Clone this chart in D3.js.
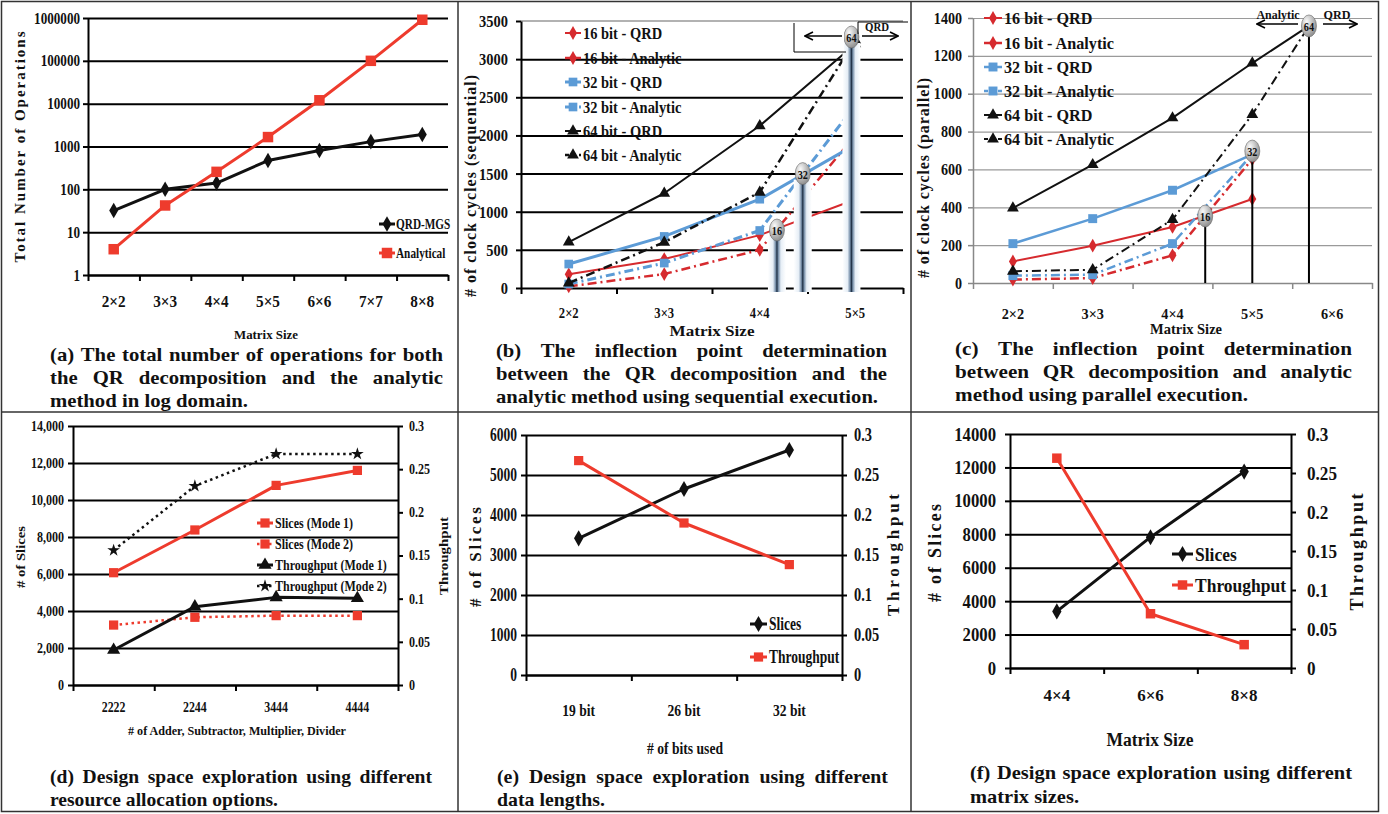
<!DOCTYPE html>
<html>
<head>
<meta charset="utf-8">
<script src="https://cdn.jsdelivr.net/npm/d3@7"></script>
<style>
  body { margin: 0; background: #fff; }
  svg text { font-family: "Liberation Serif", "Times New Roman", serif; font-weight: bold; fill: #111; }
</style>
</head>
<body>
<svg id="fig" width="1388" height="814"></svg>
<script>
// (a) total number of operations, log domain
const opsCats = ["2×2", "3×3", "4×4", "5×5", "6×6", "7×7", "8×8"];
const opsQRD = [32, 100, 140, 470, 810, 1300, 1900];
const opsAnalytical = [4, 42, 256, 1660, 12000, 100000, 910000];
const opsTicks = [1, 10, 100, 1000, 10000, 100000, 1000000];

// (b) clock cycles, sequential
const seqCats = ["2×2", "3×3", "4×4", "5×5"];
const seq16QRD = [179, 379, 693, 1160];
const seq16Ana = [22, 183, 501, 2000];
const seq32QRD = [314, 676, 1164, 1880];
const seq32Ana = [52, 327, 754, 2400];
const seq64QRD = [601, 1242, 2127, 3200];
const seq64Ana = [65, 600, 1255, 3250];
const seqTicks = [0, 500, 1000, 1500, 2000, 2500, 3000, 3500];
const seqInflect = [["16", 2.18, 760], ["32", 2.45, 1500], ["64", 2.96, 3290]];

// (c) clock cycles, parallel
const parCats = ["2×2", "3×3", "4×4", "5×5", "6×6"];
const par16QRD = [114, 197, 296, 444];
const par16Ana = [18, 26, 146, 655];
const par32QRD = [208, 340, 490, 680];
const par32Ana = [39, 44, 208, 680];
const par64QRD = [396, 625, 872, 1162];
const par64Ana = [62, 70, 335, 890];
const parTicks = [0, 200, 400, 600, 800, 1000, 1200, 1400];
const parInflect = [["16", 2.41, 354], ["32", 3.0, 697], ["64", 3.71, 1358]];

// (d) resource allocation
const resCats = ["2222", "2244", "3444", "4444"];
const resSlicesM1 = [6070, 8380, 10790, 11600];
const resSlicesM2 = [3240, 3660, 3750, 3750];
const resThruM1 = [0.0405, 0.0907, 0.1015, 0.1004];
const resThruM2 = [0.156, 0.2305, 0.2676, 0.2676];
const resTicks = [0, 2000, 4000, 6000, 8000, 10000, 12000, 14000];
const thruTicks = [0, 0.05, 0.1, 0.15, 0.2, 0.25, 0.3];

// (e) data lengths
const bitCats = ["19 bit", "26 bit", "32 bit"];
const bitSlices = [3417, 4650, 5625];
const bitThru = [0.268, 0.19, 0.138];
const bitTicks = [0, 1000, 2000, 3000, 4000, 5000, 6000];

// (f) matrix sizes
const sizeCats = ["4×4", "6×6", "8×8"];
const sizeSlices = [3385, 7826, 11750];
const sizeThru = [0.269, 0.0696, 0.0299];
const sizeTicks = [0, 2000, 4000, 6000, 8000, 10000, 12000, 14000];

const RED = "#ee3b2d", RED2 = "#d62a2e", BLUE = "#5c9bd6", INK = "#111";
const DASHDOT = "9,4,2,4";

const svg = d3.select("#fig");
const defs = svg.append("defs");
const rg = defs.append("radialGradient").attr("id", "bub").attr("cx", "35%").attr("cy", "30%").attr("r", "75%");
rg.append("stop").attr("offset", "0%").attr("stop-color", "#fafafa");
rg.append("stop").attr("offset", "100%").attr("stop-color", "#8a8a8a");
const lg = defs.append("linearGradient").attr("id", "glow");
[[0, "#fff"], [0.28, "#e6eef6"], [0.42, "#7890aa"], [0.5, "#1e2f44"], [0.58, "#7890aa"], [0.72, "#e6eef6"], [1, "#fff"]]
  .forEach(([o, c]) => lg.append("stop").attr("offset", o).attr("stop-color", c));
defs.append("marker").attr("id", "arr").attr("viewBox", "0 0 10 10").attr("refX", 9).attr("refY", 5)
  .attr("markerWidth", 10).attr("markerHeight", 10).attr("markerUnits", "userSpaceOnUse").attr("orient", "auto")
  .append("path").attr("d", "M1,1 L9,5 L1,9").attr("fill", "none").attr("stroke", "#000").attr("stroke-width", 1.6);

// squeeze text horizontally, the source figure uses a narrow Times
function squeeze(sel, sx) {
  sel.each(function () {
    const L = this.getComputedTextLength();
    d3.select(this).attr("textLength", L * sx).attr("lengthAdjust", "spacingAndGlyphs");
  });
}

function label(g, str, x, y, o = {}) {
  const t = g.append("text")
    .attr("transform", `translate(${x},${y})` + (o.rotate ? ` rotate(${o.rotate})` : ""))
    .attr("text-anchor", o.anchor || "start")
    .attr("dy", "0.35em")
    .style("font-size", (o.size || 14) + "px")
    .text(str);
  if (o.w) t.attr("textLength", o.w).attr("lengthAdjust", o.adjust || "spacingAndGlyphs");
  else if (o.sx) squeeze(t, o.sx);
  return t;
}

function panel(p) {
  const g = svg.append("g");
  const x = d3.scaleLinear().domain([-0.5, p.cats.length - 0.5]).range([p.x0, p.x1]);
  const yL = (p.log ? d3.scaleLog() : d3.scaleLinear()).domain(p.yDomain).range([p.y1, p.y0]);
  const yR = p.rDomain ? d3.scaleLinear().domain(p.rDomain).range([p.y1, p.y0]) : null;
  const W = p.x1 - p.x0;

  // gridlines
  g.append("g").attr("transform", `translate(${p.x0},0)`)
    .call(d3.axisLeft(yL).tickValues(p.gridTicks || p.yTicks).tickSize(-W).tickFormat(""))
    .call(a => a.select(".domain").remove())
    .selectAll("line").attr("stroke", p.gridColor).attr("stroke-width", p.gridWidth);
  if (p.topLine) {
    g.append("line").attr("x1", p.x0).attr("x2", p.x1).attr("y1", p.y0).attr("y2", p.y0)
      .attr("stroke", p.topLine).attr("stroke-width", 1.5);
  }

  // left axis
  const left = g.append("g").attr("transform", `translate(${p.x0},0)`)
    .call(d3.axisLeft(yL).tickValues(p.yTicks).tickSize(p.tick).tickSizeOuter(0)
      .tickPadding(p.x0 - p.tick - p.lblX).tickFormat(p.yFmt || d3.format("d")));
  left.select(".domain").attr("stroke", p.axisColor).attr("stroke-width", p.axisWidth);
  left.selectAll(".tick line").attr("stroke", p.axisColor).attr("stroke-width", p.axisWidth);
  left.selectAll("text").style("font-size", p.tickFont + "px");
  squeeze(left.selectAll("text"), p.tickSx);

  // right axis
  if (yR) {
    const right = g.append("g").attr("transform", `translate(${p.x1},0)`)
      .call(d3.axisRight(yR).tickValues(p.rTicks).tickSize(p.tick).tickSizeOuter(0)
        .tickPadding(p.rLblX - p.x1 - p.tick).tickFormat(d => String(+d.toFixed(2))));
    right.select(".domain").attr("stroke", p.axisColor).attr("stroke-width", p.axisWidth);
    right.selectAll(".tick line").attr("stroke", p.axisColor).attr("stroke-width", p.axisWidth);
    right.selectAll("text").style("font-size", p.rTickFont + "px");
    squeeze(right.selectAll("text"), p.rTickSx);
  }

  // bottom axis, ticks on the category boundaries
  const bounds = d3.range(p.cats.length + 1).map(i => i - 0.5);
  const bottom = g.append("g").attr("transform", `translate(0,${p.y1})`)
    .call(d3.axisBottom(x).tickValues(bounds).tickSize(p.tick + 1).tickSizeOuter(0).tickFormat(""));
  bottom.select(".domain").attr("stroke", p.axisColor).attr("stroke-width", p.axisWidth);
  bottom.selectAll(".tick line").attr("stroke", p.axisColor).attr("stroke-width", p.axisWidth);

  const cl = g.selectAll(null).data(p.cats).join("text")
    .attr("x", (d, i) => x(i)).attr("y", p.catY).attr("dy", "0.35em")
    .attr("text-anchor", "middle").style("font-size", p.catSize + "px").text(d => d);
  squeeze(cl, p.catSx || 1);

  // titles
  const [xt, xtx, xty, xts, xtw] = p.xTitle;
  label(g, xt, xtx, xty, { size: xts, w: xtw, anchor: "middle" });
  const [yt, ytx, yty, yts, ytw, yta] = p.yTitle;
  label(g, yt, ytx, yty, { size: yts, w: ytw, anchor: "middle", rotate: -90, adjust: yta });
  if (p.rTitle) {
    const [rt, rtx, rty, rts, rtw, rta] = p.rTitle;
    label(g, rt, rtx, rty, { size: rts, w: rtw, anchor: "middle", rotate: -90, adjust: rta });
  }

  // series
  p.series.forEach(s => {
    const y = s.right ? yR : yL;
    const pts = s.values.map((v, i) => [i, v]).concat(s.tail ? [s.tail] : []);
    g.append("path").datum(pts)
      .attr("fill", "none").attr("stroke", s.color).attr("stroke-width", s.width)
      .attr("stroke-dasharray", s.dash || null).attr("stroke-linejoin", "round")
      .attr("d", d3.line().x(d => x(d[0])).y(d => y(d[1])));
    g.selectAll(null).data(s.values).join("path")
      .attr("d", d3.symbol(s.sym, s.size))
      .attr("transform", (v, i) => `translate(${x(i)},${y(v)})`)
      .attr("fill", s.color);
  });

  // legend
  const L = p.legend;
  p.series.forEach((s, k) => {
    const ly = L.ys[k];
    g.append("line").attr("x1", L.x0).attr("x2", L.x1).attr("y1", ly).attr("y2", ly)
      .attr("stroke", s.color).attr("stroke-width", s.width).attr("stroke-dasharray", s.legDash || null);
    g.append("path").attr("d", d3.symbol(s.sym, s.size)())
      .attr("transform", `translate(${(L.x0 + L.x1) / 2},${ly})`).attr("fill", s.color);
    label(g, s.name, L.tx, ly, { size: L.size, sx: L.sx });
  });

  return { g, x, yL, yR };
}

function bubble(g, cx, cy, txt) {
  g.append("ellipse").attr("cx", cx).attr("cy", cy).attr("rx", 7.5).attr("ry", 11)
    .attr("fill", "url(#bub)").attr("stroke", "#666").attr("stroke-width", 0.6);
  label(g, txt, cx, cy + 1, { size: 12, anchor: "middle", sx: 0.85 });
}

function arrow(g, x1, x2, y) {
  g.append("line").attr("x1", x1).attr("x2", x2).attr("y1", y).attr("y2", y)
    .attr("stroke", "#000").attr("stroke-width", 1.6).attr("marker-end", "url(#arr)");
}

// justified caption block
function caption(x, ys, width, lastWidth, lines, size) {
  const g = svg.append("g");
  const probe = g.append("text").style("font-size", size + "px").text(lines[lines.length - 1]);
  const sx = lastWidth / probe.node().getComputedTextLength();
  probe.remove();
  lines.forEach((line, li) => {
    const words = line.split(" ");
    const ts = words.map(w => g.append("text").style("font-size", size + "px").attr("y", ys[li]).attr("dy", "0.35em").text(w));
    const lens = ts.map(t => t.node().getComputedTextLength() * sx);
    ts.forEach((t, i) => t.attr("textLength", lens[i]).attr("lengthAdjust", "spacingAndGlyphs"));
    const last = li === lines.length - 1;
    const gap = last ? 0.25 * size * sx : (width - d3.sum(lens)) / (words.length - 1);
    let cx = x;
    ts.forEach((t, i) => { t.attr("x", cx); cx += lens[i] + gap; });
  });
}

// frame around the six panels
svg.append("rect").attr("x", 1.5).attr("y", 1.5).attr("width", 1377).attr("height", 810)
  .attr("fill", "none").attr("stroke", "#333").attr("stroke-width", 1.5);
[458, 911].forEach(vx => svg.append("line").attr("x1", vx).attr("x2", vx).attr("y1", 1.5).attr("y2", 811.5)
  .attr("stroke", "#333").attr("stroke-width", 1.5));
svg.append("line").attr("x1", 1.5).attr("x2", 1378.5).attr("y1", 412).attr("y2", 412)
  .attr("stroke", "#333").attr("stroke-width", 1.5);

// (a)
panel({
  x0: 88, x1: 448, y0: 18, y1: 275, cats: opsCats, log: true, yDomain: [1, 1e6], yTicks: opsTicks,
  gridColor: "#000", gridWidth: 2, axisColor: "#000", axisWidth: 2, tick: 5, lblX: 80, tickFont: 16, tickSx: 0.82,
  catY: 301, catSize: 16, catSx: 0.95,
  xTitle: ["Matrix Size", 266, 335, 12, 64],
  yTitle: ["Total Number of Operations", 20, 147, 15, 231, "spacing"],
  series: [
    { name: "QRD-MGS", values: opsQRD, color: INK, width: 3, sym: d3.symbolDiamond, size: 70 },
    { name: "Analytical", values: opsAnalytical, color: RED, width: 3, sym: d3.symbolSquare, size: 110 }
  ],
  legend: { x0: 379, x1: 395, tx: 396, ys: [224, 253], size: 15, sx: 0.75 }
});

// (b)
const pb = panel({
  x0: 521, x1: 903, y0: 21, y1: 288, cats: seqCats, yDomain: [0, 3500], yTicks: seqTicks,
  gridTicks: seqTicks.slice(1, -1), topLine: "#999",
  gridColor: "#000", gridWidth: 2, axisColor: "#000", axisWidth: 2, tick: 5, lblX: 508, tickFont: 17, tickSx: 0.85,
  catY: 313, catSize: 14, catSx: 0.9,
  xTitle: ["Matrix Size", 712, 331, 15, 85],
  yTitle: ["# of clock cycles (sequential)", 470, 186, 16, 222, "spacing"],
  series: [
    { name: "16 bit - QRD", values: seq16QRD, color: RED2, width: 2, sym: d3.symbolDiamond, size: 55 },
    { name: "16 bit - Analytic", values: seq16Ana, color: RED2, width: 2.5, dash: DASHDOT, sym: d3.symbolDiamond, size: 55 },
    { name: "32 bit - QRD", values: seq32QRD, color: BLUE, width: 3, sym: d3.symbolSquare, size: 75 },
    { name: "32 bit - Analytic", values: seq32Ana, color: BLUE, width: 3, dash: DASHDOT, legDash: "4,3", sym: d3.symbolSquare, size: 75 },
    { name: "64 bit - QRD", values: seq64QRD, color: INK, width: 2, sym: d3.symbolTriangle, size: 60 },
    { name: "64 bit - Analytic", values: seq64Ana, color: INK, width: 2.5, dash: DASHDOT, legDash: "4,3", sym: d3.symbolTriangle, size: 60 }
  ],
  legend: { x0: 565, x1: 581, tx: 583, ys: [33, 58, 82, 107, 131, 155], size: 17, sx: 0.85 }
});
seqInflect.forEach(([t, at, v]) => {
  const cx = pb.x(at), cy = pb.yL(v);
  pb.g.append("rect").attr("x", cx - 9).attr("y", cy + 6).attr("width", 18).attr("height", 292 - cy - 6).attr("fill", "url(#glow)");
});
seqInflect.forEach(([t, at, v]) => bubble(pb.g, pb.x(at), pb.yL(v), t));
// clipped "Analytic / QRD" call-out in the corner
pb.g.append("rect").attr("x", 794).attr("y", 23).attr("width", 50).attr("height", 29).attr("fill", "#fff");
pb.g.append("path").attr("d", "M794,23 V52 H846").attr("fill", "none").attr("stroke", "#000").attr("stroke-width", 1);
pb.g.append("rect").attr("x", 860).attr("y", 22).attr("width", 46).attr("height", 13).attr("fill", "#fff");
pb.g.append("path").attr("d", "M858,34 V22 H908").attr("fill", "none").attr("stroke", "#000").attr("stroke-width", 1);
label(pb.g, "QRD", 877, 27, { size: 12, w: 24, anchor: "middle" });
arrow(pb.g, 842, 805, 36);
arrow(pb.g, 862, 898, 36);

// (c)
const pc = panel({
  x0: 973, x1: 1372, y0: 18, y1: 283, cats: parCats, yDomain: [0, 1400], yTicks: parTicks,
  gridColor: "#9a9a9a", gridWidth: 1.2, axisColor: "#888", axisWidth: 1.5, tick: 5, lblX: 962, tickFont: 16, tickSx: 0.88,
  catY: 314, catSize: 15, catSx: 0.95,
  xTitle: ["Matrix Size", 1186, 329, 15, 72],
  yTitle: ["# of clock cycles (parallel)", 923, 178, 16, 200, "spacing"],
  series: [
    { name: "16 bit - QRD", values: par16QRD, color: RED2, width: 2, sym: d3.symbolDiamond, size: 55 },
    { name: "16 bit - Analytic", values: par16Ana, color: RED2, width: 2.5, dash: DASHDOT, sym: d3.symbolDiamond, size: 55 },
    { name: "32 bit - QRD", values: par32QRD, color: BLUE, width: 2.5, sym: d3.symbolSquare, size: 80 },
    { name: "32 bit - Analytic", values: par32Ana, color: BLUE, width: 2.5, dash: DASHDOT, legDash: "4,3", sym: d3.symbolSquare, size: 80 },
    { name: "64 bit - QRD", values: par64QRD, color: INK, width: 2, sym: d3.symbolTriangle, size: 60, tail: [parInflect[2][1], parInflect[2][2]] },
    { name: "64 bit - Analytic", values: par64Ana, color: INK, width: 2, dash: DASHDOT, legDash: "4,3", sym: d3.symbolTriangle, size: 60, tail: [parInflect[2][1], parInflect[2][2]] }
  ],
  legend: { x0: 984, x1: 1002, tx: 1004, ys: [18, 43, 67, 91, 115, 139], size: 17, sx: 0.95 }
});
parInflect.forEach(([t, at, v]) => {
  pc.g.append("line").attr("x1", pc.x(at)).attr("x2", pc.x(at)).attr("y1", pc.yL(v)).attr("y2", 283)
    .attr("stroke", "#000").attr("stroke-width", 2);
});
parInflect.forEach(([t, at, v]) => bubble(pc.g, pc.x(at), pc.yL(v), t));
label(pc.g, "Analytic", 1278, 14, { size: 13, w: 43, anchor: "middle" });
label(pc.g, "QRD", 1337, 14, { size: 13, w: 27, anchor: "middle" });
arrow(pc.g, 1298, 1257, 24);
arrow(pc.g, 1323, 1357, 24);

// (d)
panel({
  x0: 73, x1: 398, y0: 426, y1: 685, cats: resCats, yDomain: [0, 14000], yTicks: resTicks, yFmt: d3.format(","),
  rDomain: [0, 0.3], rTicks: thruTicks, rLblX: 409, rTickFont: 14, rTickSx: 0.86,
  gridColor: "#000", gridWidth: 2, axisColor: "#000", axisWidth: 2, tick: 5, lblX: 64, tickFont: 14, tickSx: 0.86,
  catY: 707, catSize: 14, catSx: 0.85,
  xTitle: ["# of Adder, Subtractor, Multiplier, Divider", 237, 730, 13, 218],
  yTitle: ["# of Slices", 20, 557, 13, 62],
  rTitle: ["Throughput", 443, 556, 13, 78],
  series: [
    { name: "Slices (Mode 1)", values: resSlicesM1, color: RED, width: 3, sym: d3.symbolSquare, size: 85 },
    { name: "Slices (Mode 2)", values: resSlicesM2, color: RED, width: 2.5, dash: "2.5,3.5", legDash: "2.5,3.5", sym: d3.symbolSquare, size: 85 },
    { name: "Throughput (Mode 1)", values: resThruM1, right: true, color: INK, width: 3, sym: d3.symbolTriangle, size: 75 },
    { name: "Throughput (Mode 2)", values: resThruM2, right: true, color: INK, width: 2.5, dash: "2.5,3.5", legDash: "2.5,3.5", sym: d3.symbolStar, size: 50 }
  ],
  legend: { x0: 257, x1: 273, tx: 275, ys: [523, 544, 565, 586], size: 15, sx: 0.8 }
});

// (e)
panel({
  x0: 526, x1: 842, y0: 435, y1: 675, cats: bitCats, yDomain: [0, 6000], yTicks: bitTicks,
  rDomain: [0, 0.3], rTicks: thruTicks, rLblX: 854, rTickFont: 18, rTickSx: 0.8,
  gridColor: "#000", gridWidth: 2, axisColor: "#000", axisWidth: 2, tick: 5, lblX: 517, tickFont: 18, tickSx: 0.75,
  catY: 710, catSize: 17, catSx: 0.8,
  xTitle: ["# of bits used", 685, 748, 16, 76],
  yTitle: ["# of Slices", 475, 557, 17, 100, "spacing"],
  rTitle: ["Throughput", 893, 555, 17, 122, "spacing"],
  series: [
    { name: "Slices", values: bitSlices, color: INK, width: 3, sym: d3.symbolDiamond, size: 75 },
    { name: "Throughput", values: bitThru, right: true, color: RED, width: 3, sym: d3.symbolSquare, size: 85 }
  ],
  legend: { x0: 750, x1: 767, tx: 769, ys: [624, 657], size: 18, sx: 0.75 }
});

// (f)
panel({
  x0: 1010, x1: 1291, y0: 434, y1: 668, cats: sizeCats, yDomain: [0, 14000], yTicks: sizeTicks,
  rDomain: [0, 0.3], rTicks: thruTicks, rLblX: 1307, rTickFont: 19, rTickSx: 0.9,
  gridColor: "#000", gridWidth: 2, axisColor: "#000", axisWidth: 2, tick: 5, lblX: 996, tickFont: 19, tickSx: 0.88,
  catY: 695, catSize: 17, catSx: 1,
  xTitle: ["Matrix Size", 1150, 740, 18, 87],
  yTitle: ["# of Slices", 935, 553, 18, 98, "spacing"],
  rTitle: ["Throughput", 1357, 552, 18, 117, "spacing"],
  series: [
    { name: "Slices", values: sizeSlices, color: INK, width: 3, sym: d3.symbolDiamond, size: 75 },
    { name: "Throughput", values: sizeThru, right: true, color: RED, width: 3, sym: d3.symbolSquare, size: 90 }
  ],
  legend: { x0: 1172, x1: 1193, tx: 1195, ys: [554, 585], size: 19, sx: 0.92 }
});

// captions
caption(50, [354, 377, 400], 393, 198, ["(a) The total number of operations for both", "the QR decomposition and the analytic", "method in log domain."], 19);
caption(496, [350, 373, 396], 391, 382, ["(b) The inflection point determination", "between the QR decomposition and the", "analytic method using sequential execution."], 19);
caption(955, [348, 371, 394], 397, 293, ["(c) The inflection point determination", "between QR decomposition and analytic", "method using parallel execution."], 19);
caption(50, [776, 799], 382, 228, ["(d) Design space exploration using different", "resource allocation options."], 19);
caption(497, [776, 799], 391, 108, ["(e) Design space exploration using different", "data lengths."], 19);
caption(970, [772, 796], 382, 109, ["(f) Design space exploration using different", "matrix sizes."], 19);
</script>
</body>
</html>
